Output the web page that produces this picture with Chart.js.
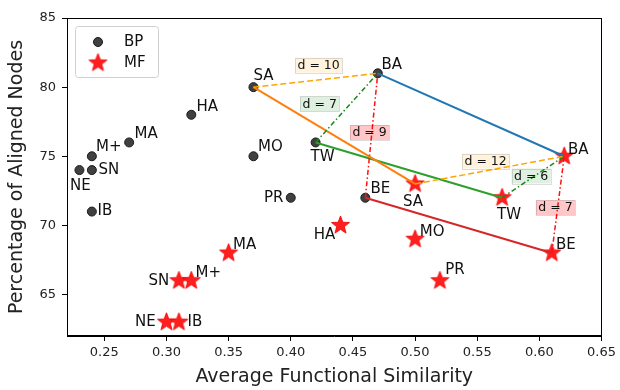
<!DOCTYPE html>
<html><head><meta charset="utf-8">
<script src="https://cdn.jsdelivr.net/npm/chart.js@4.4.1/dist/chart.umd.min.js"></script>
<style>html,body{margin:0;padding:0;background:#fff}canvas{display:block}</style>
</head><body>
<canvas id="c" width="620" height="390"></canvas>
<script>
// ---- data ----
const names = ['NE','SN','M+','MA','IB','HA','SA','MO','TW','PR','BE','BA'];
const bpX = [0.23,0.24,0.24,0.27,0.24,0.32,0.37,0.37,0.42,0.40,0.46,0.47];
const bpY = [74,74,75,76,71,78,80,75,76,72,72,81];
const mfX = [0.30,0.31,0.32,0.35,0.31,0.44,0.50,0.50,0.57,0.52,0.61,0.62];
const mfY = [63,66,66,68,63,70,73,69,72,66,68,75];
const linked = ['BA','SA','TW','BE'];
const distFrom = ['SA','TW','BE'];
const distTo = 'BA';
const bpDist = [10,7,9];
const mfDist = [12,6,7];
const xTicks = [0.25,0.30,0.35,0.40,0.45,0.50,0.55,0.60,0.65];
const yTicks = [65,70,75,80,85];

// ---- styles ----
const FONT = '"DejaVu Sans", Verdana, sans-serif';
const linkColors = {BA:'#1f77b4', SA:'#ff7f0e', TW:'#2ca02c', BE:'#d62728'};
const distStyle = {
  SA:{color:'#ffa500', dash:[6,3], box:'rgba(255,165,0,0.13)'},
  TW:{color:'#1a8a1a', dash:[5,2.5,1.5,2.5], box:'rgba(0,128,0,0.12)'},
  BE:{color:'#ff1010', dash:[5,2.5,1.5,2.5], box:'rgba(255,0,0,0.22)'}
};
const bpLabelOff = {NE:[1,16],SN:[17,0],'M+':[17,-9],MA:[17,-8],IB:[13,0],HA:[16,-8],SA:[10,-11],MO:[17,-9],TW:[7,15],PR:[-17,0],BE:[15,-9],BA:[14,-8]};
const mfLabelOff = {NE:[-21,0],SN:[-20,0],'M+':[17,-8],MA:[16,-8],IB:[16,0],HA:[-16,10],SA:[-2,18],MO:[17,-7],TW:[7,17],PR:[15,-11],BE:[14,-8],BA:[14,-6]};
const bpDistOff = {SA:[3,-15],TW:[-27,-4],BE:[-2,-3]};
const mfDistOff = {SA:[-4,-9],TW:[-2,-1],BE:[-2.5,3]};

function makeStar(R){
  const s = Math.ceil(R*2+2);
  const cv = document.createElement('canvas'); cv.width = s; cv.height = s;
  const g = cv.getContext('2d'); const c = s/2; const r = R*0.42;
  g.beginPath();
  for(let i=0;i<10;i++){
    const a = -Math.PI/2 + i*Math.PI/5; const rr = i%2?r:R;
    const px = c+rr*Math.cos(a), py = c+rr*Math.sin(a);
    i?g.lineTo(px,py):g.moveTo(px,py);
  }
  g.closePath(); g.fillStyle='#ff1f1f'; g.fill();
  g.lineWidth=0.8; g.strokeStyle='#f00000'; g.stroke();
  return cv;
}
const star = makeStar(9.5);

const pt = (xs,ys,n)=>{const i=names.indexOf(n);return {x:xs[i],y:ys[i]};};
const datasets = [];
// distance lines (on top)
distFrom.forEach((n)=>{
  const st = distStyle[n];
  datasets.push({data:[pt(bpX,bpY,n),pt(bpX,bpY,distTo)],showLine:true,pointRadius:0,borderColor:st.color,borderWidth:1.5,borderDash:st.dash,order:0});
  datasets.push({data:[pt(mfX,mfY,n),pt(mfX,mfY,distTo)],showLine:true,pointRadius:0,borderColor:st.color,borderWidth:1.5,borderDash:st.dash,order:0});
});
linked.forEach(n=>{
  datasets.push({data:[pt(bpX,bpY,n),pt(mfX,mfY,n)],showLine:true,pointRadius:0,borderColor:linkColors[n],borderWidth:2,order:1});
});
datasets.push({label:'BP',data:bpX.map((x,i)=>({x,y:bpY[i]})),pointStyle:'circle',pointRadius:4.5,backgroundColor:'#404040',borderColor:'#1a1a1a',borderWidth:1,order:2});
datasets.push({label:'MF',data:mfX.map((x,i)=>({x,y:mfY[i]})),pointStyle:star,pointRadius:9.5,backgroundColor:'#ff1f1f',order:2});

const overlay = {
  id:'overlay',
  afterDatasetsDraw(chart){
    const ctx = chart.ctx, xs = chart.scales.x, ys = chart.scales.y, a = chart.chartArea;
    ctx.save();
    // point labels
    ctx.font = '15px '+FONT; ctx.fillStyle='#111'; ctx.textAlign='center'; ctx.textBaseline='middle';
    names.forEach((n,i)=>{
      let o = bpLabelOff[n];
      ctx.fillText(n, xs.getPixelForValue(bpX[i])+o[0], ys.getPixelForValue(bpY[i])+o[1]);
      o = mfLabelOff[n];
      ctx.fillText(n, xs.getPixelForValue(mfX[i])+o[0], ys.getPixelForValue(mfY[i])+o[1]);
    });
    // distance labels
    ctx.font = '12.5px '+FONT;
    const drawD = (xsArr,ysArr,n,d,off)=>{
      const p1 = pt(xsArr,ysArr,n), p2 = pt(xsArr,ysArr,distTo);
      const cx = (xs.getPixelForValue(p1.x)+xs.getPixelForValue(p2.x))/2 + off[0];
      const cy = (ys.getPixelForValue(p1.y)+ys.getPixelForValue(p2.y))/2 + off[1];
      const t = 'd = '+d; const w = ctx.measureText(t).width + 5, h = 15;
      ctx.fillStyle = distStyle[n].box; ctx.fillRect(cx-w/2, cy-h/2, w, h);
      ctx.strokeStyle = 'rgba(0,0,0,0.13)'; ctx.lineWidth=1; ctx.strokeRect(Math.round(cx-w/2)+0.5, Math.round(cy-h/2)+0.5, Math.round(w), h);
      ctx.fillStyle = '#111'; ctx.fillText(t, cx, cy+0.5);
    };
    distFrom.forEach((n,k)=>{
      drawD(bpX,bpY,n,bpDist[k],bpDistOff[n]);
      drawD(mfX,mfY,n,mfDist[k],mfDistOff[n]);
    });
    // frame
    ctx.strokeStyle='#000'; ctx.lineWidth=1;
    ctx.strokeRect(Math.round(a.left)+0.5, Math.round(a.top)+0.5, Math.round(a.right-a.left)-1, Math.round(a.bottom-a.top)-1);
    // legend
    const lx=75, ly=26, lw=83, lh=51;
    ctx.beginPath(); ctx.roundRect(lx+0.5,ly+0.5,lw,lh,3);
    ctx.fillStyle='rgba(255,255,255,0.85)'; ctx.fill(); ctx.strokeStyle='#d0d0d0'; ctx.stroke();
    ctx.beginPath(); ctx.arc(98,42,4.5,0,Math.PI*2); ctx.fillStyle='#404040'; ctx.fill(); ctx.strokeStyle='#1a1a1a'; ctx.stroke();
    ctx.drawImage(star, 98-star.width/2, 63-star.height/2);
    ctx.font='15px '+FONT; ctx.fillStyle='#111'; ctx.textAlign='left';
    ctx.fillText(chart.data.datasets[datasets.length-2].label, 124, 42);
    ctx.fillText(chart.data.datasets[datasets.length-1].label, 124, 63);
    ctx.restore();
  }
};

new Chart(document.getElementById('c'), {
  type:'scatter',
  data:{datasets},
  plugins:[overlay],
  options:{
    responsive:false, animation:false, events:[],
    layout:{padding:{left:0,right:11,top:18,bottom:0}},
    plugins:{legend:{display:false},tooltip:{enabled:false}},
    scales:{
      x:{type:'linear',min:0.22,max:0.65,
        afterBuildTicks:s=>{s.ticks=xTicks.map(v=>({value:v}));},
        afterFit:s=>{s.height=54;},
        ticks:{callback:v=>v.toFixed(2),font:{family:FONT,size:13},color:'#222',padding:4,maxRotation:0,autoSkip:false},
        grid:{drawOnChartArea:false,drawTicks:true,tickLength:5,tickColor:'#000'},
        border:{display:true,color:'#000'},
        title:{display:true,text:'Average Functional Similarity',font:{family:FONT,size:19},color:'#222',padding:{top:0,bottom:2}}
      },
      y:{type:'linear',min:62,max:85,
        afterBuildTicks:s=>{s.ticks=yTicks.map(v=>({value:v}));},
        afterFit:s=>{s.width=67;},
        ticks:{font:{family:FONT,size:13},color:'#222',padding:6,autoSkip:false},
        grid:{drawOnChartArea:false,drawTicks:true,tickLength:5,tickColor:'#000'},
        border:{display:true,color:'#000'},
        title:{display:true,text:'Percentage of Aligned Nodes',font:{family:FONT,size:19},color:'#222',padding:{top:6,bottom:0}}
      }
    }
  }
});
</script>
</body></html>
